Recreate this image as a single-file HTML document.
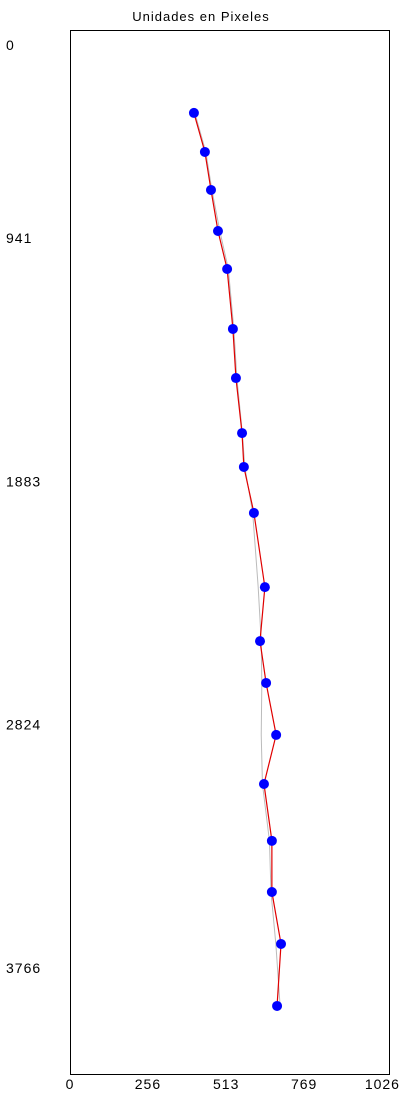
<!DOCTYPE html>
<html><head><meta charset="utf-8"><style>
body{margin:0;background:#fff;}
svg{display:block;font-family:"Liberation Sans",sans-serif;}
</style></head><body>
<svg width="409" height="1114" viewBox="0 0 409 1114" xmlns="http://www.w3.org/2000/svg">
<text x="201" y="21" text-anchor="middle" font-size="13" letter-spacing="1">Unidades en Pixeles</text>
<rect x="70.5" y="30.5" width="319" height="1044" fill="none" stroke="#000" stroke-width="1"/>
<g id="g"></g>
</svg>
<script>
const xTicks=[0,256,513,769,1026];
const yTicks=[0,941,1883,2824,3766];
const xs=[407,443,463,486,516,535,545,565,571,604,640,624,644,677,637,663,663,693,680];
const ys=[457,608,755,914,1061,1293,1483,1696,1827,2005,2292,2501,2663,2864,3054,3274,3472,3673,3913];
const grayX=[410,446,466,492,520,538,548,566,574,600,618,628,630,628,632,655,660,676,690];
const grayY=[457,608,755,914,1061,1293,1483,1696,1827,2005,2292,2501,2663,2864,3054,3274,3472,3673,3913];
const NS='http://www.w3.org/2000/svg';
const X=v=>70+v*0.3045;
const Y=v=>238+(v-941)*0.2584;
const g=document.getElementById('g');
function mk(t,a){const e=document.createElementNS(NS,t);for(const k in a)e.setAttribute(k,a[k]);g.appendChild(e);return e;}
xTicks.forEach(v=>{const t=mk('text',{x:X(v),y:1089,'text-anchor':'middle','font-size':'14','letter-spacing':'1'});t.textContent=v;

});
yTicks.forEach(v=>{const py=v===0?50:Y(v)+5;const t=mk('text',{x:6,y:py,'font-size':'14','letter-spacing':'1'});t.textContent=v;

});
const gp=mk('polyline',{points:grayX.map((v,i)=>X(v)+','+Y(grayY[i])).join(' '),fill:'none',stroke:'#bbb','stroke-width':1});


const rp=mk('polyline',{points:xs.map((v,i)=>X(v)+','+Y(ys[i])).join(' '),fill:'none',stroke:'#e00000','stroke-width':1.2});


xs.forEach((v,i)=>{const c=mk('circle',{cx:X(v),cy:Y(ys[i]),r:5,fill:'#0000ff'});

});
</script>
</body></html>
